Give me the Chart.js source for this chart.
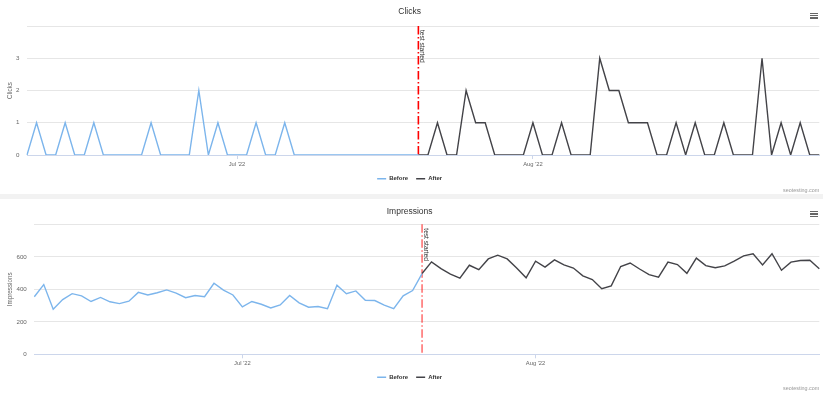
<!DOCTYPE html>
<html><head><meta charset="utf-8">
<script src="https://cdn.jsdelivr.net/npm/chart.js@4.4.1/dist/chart.umd.min.js"></script>
<style>
html,body{margin:0;padding:0;background:#fff;width:823px;height:393px;overflow:hidden;font-family:"Liberation Sans",Arial,sans-serif}
.box{position:absolute;left:0;width:823px;height:194px;background:#fff}
.sep{position:absolute;left:0;top:194px;width:823px;height:5px;background:#f2f2f2}
.credit{position:absolute;right:3.7px;font-size:5.4px;line-height:6px;color:#999;white-space:nowrap}
.menu{position:absolute;left:809.5px;width:8px}
.menu i{display:block;height:1.3px;background:#666;margin-bottom:1.2px}
canvas{display:block}
</style></head>
<body>
<div class="box" style="top:0"><canvas id="c1" width="823" height="194" style="width:823px;height:194px"></canvas></div>
<div class="sep"></div>
<div class="box" style="top:199px"><canvas id="c2" width="823" height="194" style="width:823px;height:194px"></canvas></div>
<div class="credit" style="top:186.5px">seotesting.com</div>
<div class="credit" style="top:385px">seotesting.com</div>
<div class="menu" style="top:12.5px"><i></i><i></i><i></i></div>
<div class="menu" style="top:211px"><i></i><i></i><i></i></div>
<script>
const FONT = '"Liberation Sans", Arial, sans-serif';
const START_DATE = '2022-06-09';
const SERIES_NAMES = ['Before', 'After'];
const TEST_LABEL = 'test started';

const CLICKS_BEFORE = [0,1,0,0,1,0,0,1,0,0, 0,0,0,1,0,0,0,0,2,0, 1,0,0,0,1,0,0,1,0,0, 0,0,0,0,0,0,0,0,0,0, 0,0];
const CLICKS_AFTER  = [0,0,1,0,0,2,1,1,0,0, 0,0,1,0,0,1,0,0,0,3, 2,2,1,1,1,0,0,1,0,1, 0,0,1,0,0,0,3,0,1,0, 1,0,0];

const IMPR_BEFORE = [354,429,277,337,373,360,325,350,323,312, 327,381,365,379,396,377,348,362,354,437,
                     395,365,292,325,308,285,304,362,317,290, 294,281,425,373,390,333,331,302,281,360, 392,497];
const IMPR_AFTER  = [497,569,527,494,469,548,521,587,610,587, 531,471,573,537,581,550,531,483,460,404,
                     421,540,562,525,490,475,567,552,498,592, 546,533,544,573,606,619,550,619,517,567, 577,579,527];

const MONTHS = ['Jan','Feb','Mar','Apr','May','Jun','Jul','Aug','Sep','Oct','Nov','Dec'];
function buildDates(start, count) {
  const [y, m, d] = start.split('-').map(Number);
  const out = [];
  for (let i = 0; i < count; i++) {
    const dt = new Date(Date.UTC(y, m - 1, d + i));
    out.push(dt.toISOString().slice(0, 10));
  }
  return out;
}
const DATES = buildDates(START_DATE, CLICKS_BEFORE.length + CLICKS_AFTER.length - 1);
function fmtMonth(iso) {
  return MONTHS[Number(iso.slice(5, 7)) - 1] + " '" + iso.slice(2, 4);
}

const testLinePlugin = {
  id: 'testLine',
  beforeDatasetsDraw(chart, args, opts) {
    const {ctx, chartArea, scales: {x}} = chart;
    const px = x.getPixelForValue(opts.index);
    ctx.save();
    ctx.strokeStyle = opts.color;
    ctx.lineWidth = 1.6;
    ctx.setLineDash([8.5, 2.5, 1.5, 2.5]);
    ctx.beginPath();
    ctx.moveTo(px, chartArea.top);
    ctx.lineTo(px, chartArea.bottom);
    ctx.stroke();
    ctx.setLineDash([]);
    ctx.translate(px + 1.5, chartArea.top + 4);
    ctx.rotate(Math.PI / 2);
    ctx.font = '6.6px ' + FONT;
    ctx.fillStyle = '#333';
    ctx.textAlign = 'left';
    ctx.textBaseline = 'alphabetic';
    ctx.fillText(opts.text, 0, 0);
    ctx.restore();
  }
};

function makeChart(id, cfg) {
  const afterData = Array(cfg.before.length - 1).fill(null).concat(cfg.after);
  return new Chart(document.getElementById(id), {
    type: 'line',
    data: {
      labels: DATES,
      datasets: [
        {label: SERIES_NAMES[0], data: cfg.before, borderColor: '#7cb5ec', backgroundColor: '#7cb5ec',
         borderWidth: 1.4, pointRadius: 0, pointHoverRadius: 0, tension: 0, fill: false},
        {label: SERIES_NAMES[1], data: afterData, borderColor: '#434348', backgroundColor: '#434348',
         borderWidth: 1.4, pointRadius: 0, pointHoverRadius: 0, tension: 0, fill: false}
      ]
    },
    options: {
      responsive: false, animation: false, events: [],
      layout: {padding: {left: 0, right: 3.7, top: 0, bottom: cfg.padBottom}},
      plugins: {
        title: {display: true, text: cfg.title, color: '#333333',
                font: {family: FONT, size: 8.5, weight: 'normal'},
                padding: {top: cfg.titleTop, bottom: cfg.titleBottom}},
        legend: {display: true, position: 'bottom',
                 labels: {usePointStyle: true, pointStyle: 'line', pointStyleWidth: 9, color: '#333333',
                          font: {family: FONT, size: 6, weight: 'bold'}, padding: 8}},
        tooltip: {enabled: false},
        testLine: {index: cfg.before.length - 1, color: cfg.lineColor, text: TEST_LABEL}
      },
      scales: {
        x: {
          type: 'category', offset: false,
          afterFit(s) { s.height = cfg.xh; },
          afterBuildTicks(s) { s.ticks = s.ticks.filter(t => DATES[t.value].slice(8) === '01'); },
          grid: {display: true, drawOnChartArea: false, drawTicks: true, tickLength: 4, color: '#ccd6eb'},
          border: {display: true, color: '#ccd6eb', width: 1},
          ticks: {autoSkip: false, maxRotation: 0, padding: 1.5, color: '#666666',
                  font: {family: FONT, size: 5.8},
                  callback(v) { return fmtMonth(DATES[v]); }}
        },
        y: {
          min: 0, max: cfg.max,
          afterFit(s) { s.width = cfg.yw; },
          grid: {color: '#e6e6e6', drawTicks: false, lineWidth: 1},
          border: {display: false},
          ticks: {stepSize: cfg.step, padding: 7.5, color: '#666666', font: {family: FONT, size: 6.2},
                  callback(v) { return v === cfg.max ? '' : v; }},
          title: {display: true, text: cfg.axisTitle, color: '#666666',
                  font: {family: FONT, size: 6.3}, padding: {top: 6, bottom: 0}}
        }
      }
    },
    plugins: [testLinePlugin]
  });
}

makeChart('c1', {before: CLICKS_BEFORE, after: CLICKS_AFTER, title: 'Clicks', axisTitle: 'Clicks',
  max: 4, step: 1, yw: 27, xh: 12.7, padBottom: 2.3, titleTop: 7, titleBottom: 8.8, lineColor: '#ff0000'});
makeChart('c2', {before: IMPR_BEFORE, after: IMPR_AFTER, title: 'Impressions', axisTitle: 'Impressions',
  max: 800, step: 200, yw: 34.3, xh: 12, padBottom: 2.7, titleTop: 7.9, titleBottom: 7.2, lineColor: 'rgba(255,0,0,0.55)'});
</script>
</body></html>
